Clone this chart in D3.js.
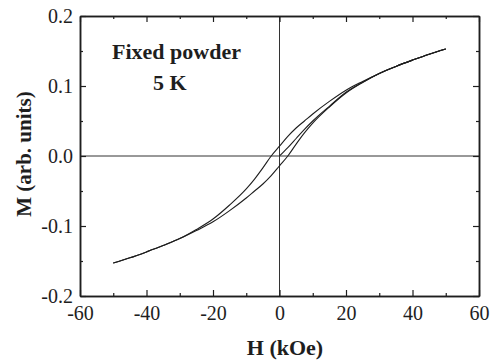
<!DOCTYPE html>
<html>
<head>
<meta charset="utf-8">
<script src="https://cdn.jsdelivr.net/npm/d3@7/dist/d3.min.js"></script>
<style>
  html, body { margin: 0; padding: 0; background: #fff; }
  svg { display: block; }
</style>
</head>
<body>
<svg id="chart" width="491" height="363"></svg>
<script>
// Applied field (kOe), shared by the loop branches
const fieldH = [-50, -45, -40, -35, -30, -25, -20, -15, -10, -7.5, -5, -2.5, 0,
                2.5, 5, 7.5, 10, 15, 20, 25, 30, 35, 40, 45, 50];
// Descending branch (coming down from +50 kOe)
const branchDown = [-0.153, -0.1455, -0.137, -0.128, -0.118, -0.105, -0.090, -0.070, -0.047, -0.033, -0.017, 0.000, 0.014,
                    0.028, 0.040, 0.050, 0.060, 0.078, 0.094, 0.1065, 0.118, 0.128, 0.137, 0.1455, 0.153];
// Ascending branch (coming up from -50 kOe)
const branchUp = [-0.153, -0.1455, -0.137, -0.128, -0.118, -0.1065, -0.094, -0.078, -0.060, -0.050, -0.040, -0.028, -0.014,
                  0.000, 0.017, 0.033, 0.047, 0.070, 0.090, 0.105, 0.118, 0.128, 0.137, 0.1455, 0.153];
// Initial magnetization curve from the demagnetized state
const virginH = [0, 2.5, 5, 7.5, 10, 15, 20, 25, 30, 35, 40, 45, 50];
const virginM = [0.000, 0.012, 0.025, 0.038, 0.050, 0.071, 0.091, 0.1055, 0.118, 0.128, 0.137, 0.1455, 0.153];

const xMajor = [-60, -40, -20, 0, 20, 40, 60];
const xMinor = [-50, -30, -10, 10, 30, 50];
const yMajor = [-0.2, -0.1, 0.0, 0.1, 0.2];
const yMinor = [-0.15, -0.05, 0.05, 0.15];

const serif = "'Liberation Serif', 'Times New Roman', Times, serif";
const svg = d3.select("#chart");
const m = { left: 80, right: 479, top: 16, bottom: 296 };

const x = d3.scaleLinear().domain([-60, 60]).range([m.left, m.right]);
const y = d3.scaleLinear().domain([-0.2, 0.2]).range([m.bottom, m.top]);

const ink = "#1e1e1e";
const fontPx = 20;
// plain hyphen for negative tick values
const fmtX = d => String(d);
const fmtY = d => d.toFixed(1);

function styleAxis(g) {
  g.attr("font-family", null);
  g.selectAll("path.domain").attr("stroke", ink).attr("stroke-width", 1.5);
  g.selectAll(".tick line").attr("stroke", ink).attr("stroke-width", 1.2);
  g.selectAll(".tick text").style("font-family", serif).style("font-size", fontPx + "px").attr("fill", ink);
}

// zero lines through the plot
svg.append("line").attr("x1", x(-60)).attr("x2", x(60)).attr("y1", y(0)).attr("y2", y(0))
  .attr("stroke", "#333").attr("stroke-width", 1);
svg.append("line").attr("x1", x(0)).attr("x2", x(0)).attr("y1", y(-0.2)).attr("y2", y(0.2))
  .attr("stroke", "#333").attr("stroke-width", 1);

// bottom axis
svg.append("g").attr("transform", `translate(0,${m.bottom})`)
  .call(d3.axisBottom(x).tickValues(xMajor).tickSizeInner(-6).tickSizeOuter(0).tickPadding(10).tickFormat(fmtX))
  .call(styleAxis);
svg.append("g").attr("transform", `translate(0,${m.bottom})`)
  .call(d3.axisBottom(x).tickValues(xMinor).tickSizeInner(-3).tickSizeOuter(0).tickFormat(""))
  .call(styleAxis);
// top axis
svg.append("g").attr("transform", `translate(0,${m.top})`)
  .call(d3.axisTop(x).tickValues(xMajor).tickSizeInner(-6).tickSizeOuter(0).tickFormat(""))
  .call(styleAxis);
svg.append("g").attr("transform", `translate(0,${m.top})`)
  .call(d3.axisTop(x).tickValues(xMinor).tickSizeInner(-3).tickSizeOuter(0).tickFormat(""))
  .call(styleAxis);
// left axis
svg.append("g").attr("transform", `translate(${m.left},0)`)
  .call(d3.axisLeft(y).tickValues(yMajor).tickSizeInner(-6).tickSizeOuter(0).tickPadding(7).tickFormat(fmtY))
  .call(styleAxis);
svg.append("g").attr("transform", `translate(${m.left},0)`)
  .call(d3.axisLeft(y).tickValues(yMinor).tickSizeInner(-3).tickSizeOuter(0).tickFormat(""))
  .call(styleAxis);
// right axis
svg.append("g").attr("transform", `translate(${m.right},0)`)
  .call(d3.axisRight(y).tickValues(yMajor).tickSizeInner(-6).tickSizeOuter(0).tickFormat(""))
  .call(styleAxis);
svg.append("g").attr("transform", `translate(${m.right},0)`)
  .call(d3.axisRight(y).tickValues(yMinor).tickSizeInner(-3).tickSizeOuter(0).tickFormat(""))
  .call(styleAxis);

// loop curves
const line = d3.line().x(d => x(d[0])).y(d => y(d[1])).curve(d3.curveMonotoneX);
const curves = [
  fieldH.map((h, i) => [h, branchDown[i]]),
  fieldH.map((h, i) => [h, branchUp[i]]),
  virginH.map((h, i) => [h, virginM[i]])
];
svg.append("g").selectAll("path").data(curves).join("path")
  .attr("d", line).attr("fill", "none").attr("stroke", ink).attr("stroke-width", 1.1);

// axis titles
function label(sel, size) {
  return sel.style("font-family", serif).style("font-size", size + "px")
    .style("font-weight", "bold").attr("fill", ink);
}
svg.append("text").attr("x", 285).attr("y", 355).attr("text-anchor", "middle")
  .call(label, 22).text("H (kOe)");
svg.append("text").attr("transform", "translate(31,154) rotate(-90)").attr("text-anchor", "middle")
  .call(label, 21).text("M (arb. units)");

// sample annotation
svg.append("text").attr("x", 112).attr("y", 59).call(label, 22).text("Fixed powder");
svg.append("text").attr("x", 153).attr("y", 90).call(label, 22).text("5 K");
</script>
</body>
</html>
